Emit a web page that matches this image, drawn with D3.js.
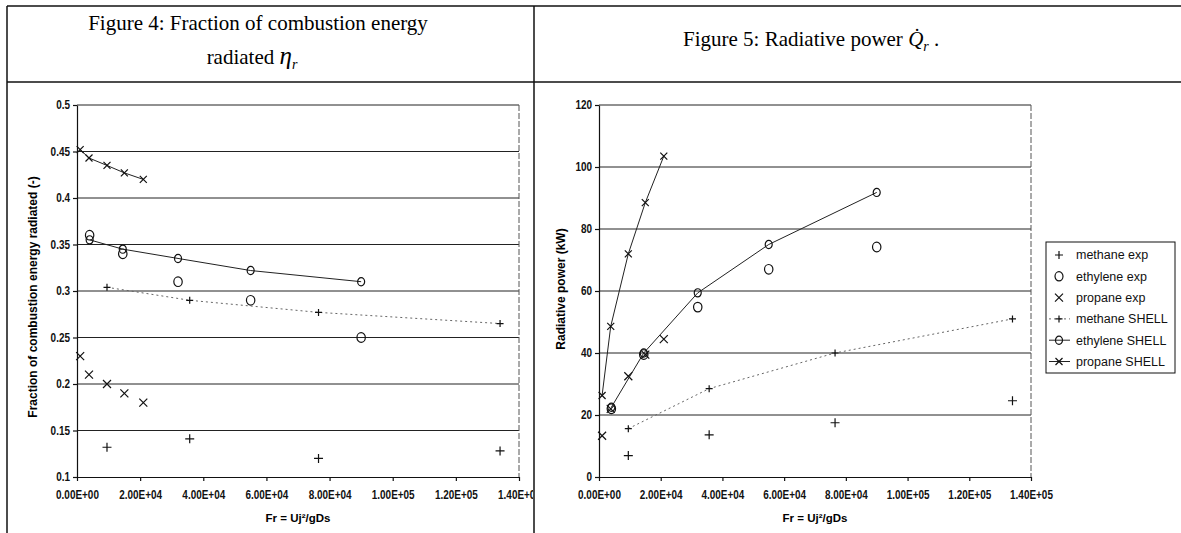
<!DOCTYPE html>
<html>
<head>
<meta charset="utf-8">
<script src="https://cdn.jsdelivr.net/npm/d3@7"></script>
<style>
  body { margin: 0; background: #fff; }
  svg { display: block; }
</style>
</head>
<body>
<svg width="1181" height="533"></svg>
<script>
// Froude numbers per fuel (same for exp and SHELL)
var methaneFr = [9500, 35700, 76500, 134000];
var ethyleneFr = [4000, 14500, 32000, 55000, 90000];
var propaneFr = [1000, 3800, 9500, 15000, 21000];

// figure 4: fraction of combustion energy radiated
var etaMethaneExp = [0.132, 0.141, 0.12, 0.128];
var etaEthyleneExp = [0.36, 0.34, 0.31, 0.29, 0.25];
var etaPropaneExp = [0.23, 0.21, 0.2, 0.19, 0.18];
var etaMethaneShell = [0.304, 0.29, 0.277, 0.265];
var etaEthyleneShell = [0.355, 0.345, 0.335, 0.322, 0.31];
var etaPropaneShell = [0.452, 0.443, 0.435, 0.427, 0.42];

// figure 5: radiative power (kW)
var qMethaneExp = [6.9, 13.6, 17.5, 24.6];
var qEthyleneExp = [22, 39.5, 54.8, 67, 74.2];
var qPropaneExp = [13.3, 22, 32.5, 39.5, 44.5];
var qMethaneShell = [15.6, 28.5, 40, 51];
var qEthyleneShell = [22.5, 40, 59.4, 75, 91.8];
var qPropaneShell = [26.3, 48.6, 72, 88.5, 103.5];

// ticks
var xTicks = [0, 20000, 40000, 60000, 80000, 100000, 120000, 140000];
var xTickLabels = ["0.00E+00", "2.00E+04", "4.00E+04", "6.00E+04", "8.00E+04", "1.00E+05", "1.20E+05", "1.40E+05"];
var etaTicks = [0.1, 0.15, 0.2, 0.25, 0.3, 0.35, 0.4, 0.45, 0.5];
var etaTickLabels = ["0.1", "0.15", "0.2", "0.25", "0.3", "0.35", "0.4", "0.45", "0.5"];
var qTicks = [0, 20, 40, 60, 80, 100, 120];
var qTickLabels = ["0", "20", "40", "60", "80", "100", "120"];

var seriesNames = ["methane exp", "ethylene exp", "propane exp", "methane SHELL", "ethylene SHELL", "propane SHELL"];

var svg = d3.select("svg");
var sans = "Arial, 'Liberation Sans', sans-serif";
var serif = "'Times New Roman', 'Liberation Serif', serif";
var squeeze = 0.83; // tick labels in the scan are narrow

// table lines
var tableLines = [
    [7, 6, 1181, 6],
    [7, 82, 1181, 82],
    [7, 6, 7, 533],
    [534, 6, 534, 533]
];
svg.selectAll(".tbl").data(tableLines).enter().append("line")
    .attr("class", "tbl")
    .attr("x1", function (d) { return d[0]; })
    .attr("y1", function (d) { return d[1]; })
    .attr("x2", function (d) { return d[2]; })
    .attr("y2", function (d) { return d[3]; })
    .attr("stroke", "#111")
    .attr("stroke-width", 1.5);

// titles
svg.append("text")
    .attr("x", 258).attr("y", 30)
    .attr("text-anchor", "middle")
    .attr("font-family", serif).attr("font-size", 21)
    .text("Figure 4: Fraction of combustion energy");

var t2 = svg.append("text")
    .attr("x", 252).attr("y", 64)
    .attr("text-anchor", "middle")
    .attr("font-family", serif).attr("font-size", 21);
t2.append("tspan").text("radiated ");
t2.append("tspan").attr("font-style", "italic").attr("font-size", 25).text("η");
t2.append("tspan").attr("font-style", "italic").attr("font-size", 14).attr("dy", 5).text("r");

var t3 = svg.append("text")
    .attr("x", 683).attr("y", 46)
    .attr("font-family", serif).attr("font-size", 21);
t3.append("tspan").text("Figure 5: Radiative power ");
t3.append("tspan").attr("font-style", "italic").text("Q\u0307");
t3.append("tspan").attr("font-style", "italic").attr("font-size", 14).attr("dy", 5).text("r");
t3.append("tspan").attr("dy", -5).text(" .");

// marker shapes
function markerPath(type, s) {
    if (type === "plus") return "M" + (-s) + ",0H" + s + "M0," + (-s) + "V" + s;
    if (type === "cross") return "M" + (-s) + "," + (-s) + "L" + s + "," + s + "M" + (-s) + "," + s + "L" + s + "," + (-s);
    return null;
}

function drawMarker(sel, type, size) {
    if (type === "circle") {
        sel.append("ellipse").attr("rx", size).attr("ry", size + 0.6)
            .attr("fill", "none").attr("stroke", "#111").attr("stroke-width", 1.2);
    } else {
        sel.append("path").attr("d", markerPath(type, size))
            .attr("fill", "none").attr("stroke", "#111").attr("stroke-width", 1.2);
    }
}

function buildSeries(vals) {
    return [
        { name: seriesNames[0], fr: methaneFr, v: vals[0], marker: "plus", size: 4.5, line: null },
        { name: seriesNames[1], fr: ethyleneFr, v: vals[1], marker: "circle", size: 4.2, line: null },
        { name: seriesNames[2], fr: propaneFr, v: vals[2], marker: "cross", size: 4, line: null },
        { name: seriesNames[3], fr: methaneFr, v: vals[3], marker: "plus", size: 3.5, line: { color: "#666", dash: "2,3" } },
        { name: seriesNames[4], fr: ethyleneFr, v: vals[4], marker: "circle", size: 3.5, line: { color: "#222", dash: null } },
        { name: seriesNames[5], fr: propaneFr, v: vals[5], marker: "cross", size: 3.5, line: { color: "#222", dash: null } }
    ];
}

function drawChart(cfg) {
    var x = d3.scaleLinear().domain([0, 140000]).range([cfg.left, cfg.right]);
    var y = d3.scaleLinear().domain([cfg.yTicks[0], cfg.yTicks[cfg.yTicks.length - 1]]).range([477, 105]);

    var g = svg.append("g");
    if (cfg.clip) g.attr("clip-path", "url(#" + cfg.clip + ")");

    // horizontal gridlines
    g.selectAll(".grid").data(cfg.yTicks.slice(1)).enter().append("line")
        .attr("x1", cfg.left).attr("x2", cfg.right)
        .attr("y1", function (d) { return y(d); })
        .attr("y2", function (d) { return y(d); })
        .attr("stroke", "#222").attr("stroke-width", 1);

    // right side of plot area
    g.append("line")
        .attr("x1", cfg.right).attr("x2", cfg.right)
        .attr("y1", y.range()[1]).attr("y2", y.range()[0])
        .attr("stroke", "#555").attr("stroke-dasharray", "6,2");

    var xAxis = g.append("g")
        .attr("transform", "translate(0,477)")
        .call(d3.axisBottom(x).tickValues(xTicks)
            .tickFormat(function (d, i) { return xTickLabels[i]; })
            .tickSize(4).tickSizeOuter(0).tickPadding(9));
    var yAxis = g.append("g")
        .attr("transform", "translate(" + cfg.left + ",0)")
        .call(d3.axisLeft(y).tickValues(cfg.yTicks)
            .tickFormat(function (d, i) { return cfg.yTickLabels[i]; })
            .tickSize(4).tickSizeOuter(0).tickPadding(3));
    [xAxis, yAxis].forEach(function (a) {
        a.attr("font-family", sans).attr("font-size", 12).attr("font-weight", "bold");
        a.selectAll("path, line").attr("stroke", "#111").attr("stroke-width", 1.2);
        a.selectAll("text").attr("fill", "#111")
            .attr("x", function () { return (+d3.select(this).attr("x") || 0) / squeeze; })
            .attr("transform", "scale(" + squeeze + ",1)");
    });

    // axis titles
    g.append("text")
        .attr("x", (cfg.left + cfg.right) / 2).attr("y", 522)
        .attr("text-anchor", "middle")
        .attr("font-family", sans).attr("font-size", 11.5).attr("font-weight", "bold")
        .text("Fr = Uj²/gDs");
    g.append("text")
        .attr("transform", "translate(" + cfg.yTitleX + "," + cfg.yTitleY + ") rotate(-90)")
        .attr("text-anchor", "middle")
        .attr("font-family", sans).attr("font-size", 12).attr("font-weight", "bold")
        .text(cfg.yTitle);

    // series
    cfg.series.forEach(function (s) {
        var pts = s.fr.map(function (f, i) { return [f, s.v[i]]; });
        if (s.line) {
            g.append("path")
                .datum(pts)
                .attr("fill", "none")
                .attr("stroke", s.line.color)
                .attr("stroke-width", 1)
                .attr("stroke-dasharray", s.line.dash)
                .attr("d", d3.line()
                    .x(function (d) { return x(d[0]); })
                    .y(function (d) { return y(d[1]); }));
        }
        g.selectAll(null).data(pts).enter().append("g")
            .attr("transform", function (d) { return "translate(" + x(d[0]) + "," + y(d[1]) + ")"; })
            .each(function () { drawMarker(d3.select(this), s.marker, s.size); });
    });
}

svg.append("defs").append("clipPath").attr("id", "leftClip")
    .append("rect").attr("x", 8).attr("y", 83).attr("width", 525).attr("height", 450);

drawChart({
    left: 77, right: 519,
    yTicks: etaTicks, yTickLabels: etaTickLabels,
    yTitle: "Fraction of combustion energy radiated (-)", yTitleX: 37, yTitleY: 297,
    clip: "leftClip",
    series: buildSeries([etaMethaneExp, etaEthyleneExp, etaPropaneExp, etaMethaneShell, etaEthyleneShell, etaPropaneShell])
});

var rightSeries = buildSeries([qMethaneExp, qEthyleneExp, qPropaneExp, qMethaneShell, qEthyleneShell, qPropaneShell]);
drawChart({
    left: 599, right: 1031,
    yTicks: qTicks, yTickLabels: qTickLabels,
    yTitle: "Radiative power (kW)", yTitleX: 565, yTitleY: 289,
    clip: null,
    series: rightSeries
});

// legend
var legend = svg.append("g").attr("transform", "translate(1046,242)");
legend.append("rect")
    .attr("width", 129).attr("height", 131)
    .attr("fill", "#fff").attr("stroke", "#111").attr("stroke-width", 1);
var items = legend.selectAll(".item").data(rightSeries).enter().append("g")
    .attr("class", "item")
    .attr("transform", function (d, i) { return "translate(0," + (13 + i * 21.3) + ")"; });
items.each(function (s) {
    var it = d3.select(this);
    if (s.line) {
        it.append("line").attr("x1", 3).attr("x2", 24).attr("y1", 0).attr("y2", 0)
            .attr("stroke", s.line.color).attr("stroke-dasharray", s.line.dash);
    }
    var m = it.append("g").attr("transform", "translate(13,0)");
    drawMarker(m, s.marker, s.line ? 3.5 : 4);
    it.append("text")
        .attr("x", 30).attr("y", 0).attr("dy", "0.35em")
        .attr("font-family", sans).attr("font-size", 12.5)
        .attr("fill", "#111")
        .text(s.name);
});
</script>
</body>
</html>
